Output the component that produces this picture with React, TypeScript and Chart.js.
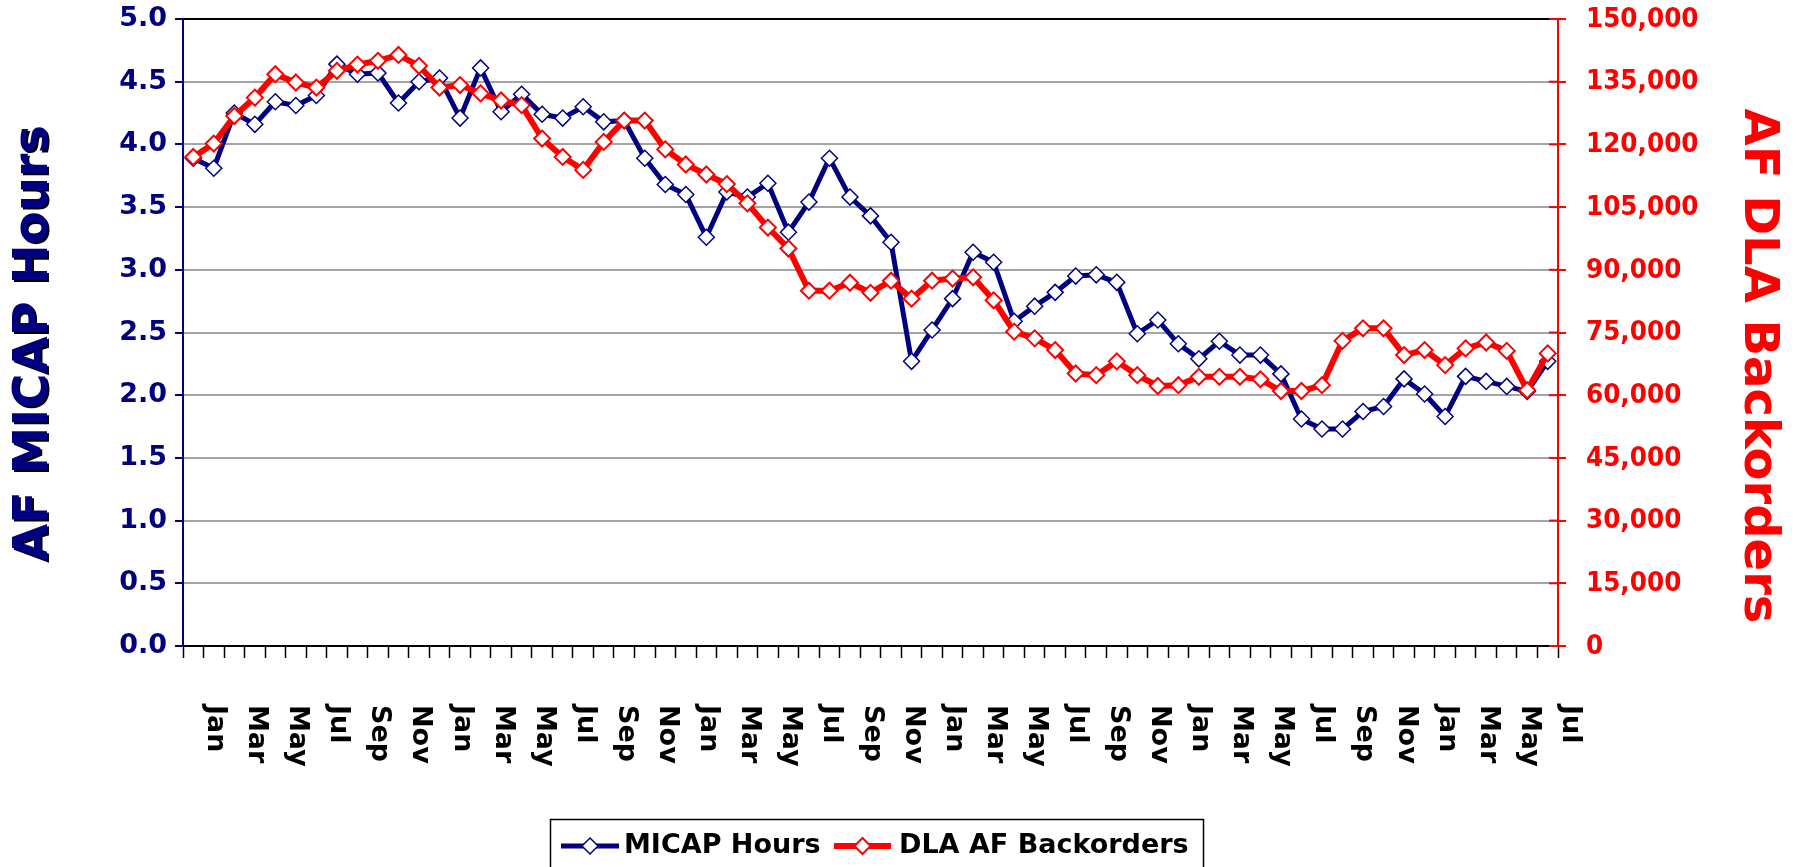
import React, { useEffect, useRef } from 'react';
import { Chart, registerables } from 'chart.js';

Chart.register(...registerables);

const categories = [
  'Jan', 'Feb', 'Mar', 'Apr', 'May', 'Jun', 'Jul', 'Aug', 'Sep', 'Oct', 'Nov', 'Dec',
  'Jan', 'Feb', 'Mar', 'Apr', 'May', 'Jun', 'Jul', 'Aug', 'Sep', 'Oct', 'Nov', 'Dec',
  'Jan', 'Feb', 'Mar', 'Apr', 'May', 'Jun', 'Jul', 'Aug', 'Sep', 'Oct', 'Nov', 'Dec',
  'Jan', 'Feb', 'Mar', 'Apr', 'May', 'Jun', 'Jul', 'Aug', 'Sep', 'Oct', 'Nov', 'Dec',
  'Jan', 'Feb', 'Mar', 'Apr', 'May', 'Jun', 'Jul', 'Aug', 'Sep', 'Oct', 'Nov', 'Dec',
  'Jan', 'Feb', 'Mar', 'Apr', 'May', 'Jun', 'Jul',
];

const micapHours = [
  3.89, 3.81, 4.25, 4.16, 4.34, 4.31, 4.39, 4.64, 4.56, 4.57, 4.33, 4.50,
  4.53, 4.21, 4.61, 4.26, 4.40, 4.24, 4.21, 4.30, 4.18, 4.19, 3.89, 3.68,
  3.60, 3.26, 3.62, 3.58, 3.69, 3.30, 3.54, 3.89, 3.58, 3.43, 3.22, 2.27,
  2.52, 2.77, 3.14, 3.06, 2.59, 2.71, 2.82, 2.95, 2.96, 2.90, 2.49, 2.60,
  2.41, 2.29, 2.43, 2.32, 2.32, 2.17, 1.81, 1.73, 1.73, 1.87, 1.91, 2.13,
  2.01, 1.83, 2.15, 2.11, 2.07, 2.03, 2.27,
];

const dlaBackorders = [
  117000, 120200, 126800, 131200, 136800, 134800, 133600, 137600, 139100, 140000, 141400, 138800,
  133600, 134200, 132200, 130500, 129400, 121400, 117000, 113900, 120600, 125700, 125700, 118800,
  115200, 112800, 110500, 105900, 100100, 95100, 85000, 85000, 86900, 84500, 87400, 83100,
  87400, 87900, 88200, 82700, 75200, 73600, 70800, 65200, 64800, 68100, 64800, 62200,
  62400, 64400, 64400, 64400, 63800, 61000, 61000, 62400, 73000, 76000, 76000, 69600,
  70800, 67200, 71200, 72600, 70600, 61200, 70000,
];

const seriesNames = ['MICAP Hours', 'DLA AF Backorders'];
const leftTitle = 'AF MICAP Hours';
const rightTitle = 'AF DLA Backorders';
const xLabelEvery = 2;

const NAVY = '#000080';
const RED = '#FF0000';
const FONT = "'DejaVu Sans', sans-serif";

const drawDiamond = (ctx: CanvasRenderingContext2D, x: number, y: number, r: number, stroke: string, lw: number) => {
  ctx.beginPath();
  ctx.moveTo(x, y - r);
  ctx.lineTo(x + r, y);
  ctx.lineTo(x, y + r);
  ctx.lineTo(x - r, y);
  ctx.closePath();
  ctx.fillStyle = '#FFFFFF';
  ctx.fill();
  ctx.strokeStyle = stroke;
  ctx.lineWidth = lw;
  ctx.stroke();
};

const decorPlugin = {
  id: 'decor',
  afterDraw(chart: any) {
    const ctx: CanvasRenderingContext2D = chart.ctx;
    const area = chart.chartArea;
    const xs = chart.scales.x;
    const y1 = chart.scales.y1;
    ctx.save();

    // right axis inward tick marks + labels
    ctx.strokeStyle = RED;
    ctx.lineWidth = 2;
    ctx.fillStyle = RED;
    ctx.font = `bold 26px ${FONT}`;
    ctx.textAlign = 'left';
    ctx.textBaseline = 'middle';
    y1.ticks.forEach((t: any) => {
      const py = y1.getPixelForValue(t.value);
      ctx.beginPath();
      ctx.moveTo(area.right - 9, py);
      ctx.lineTo(area.right, py);
      ctx.stroke();
      ctx.save();
      ctx.translate(area.right + 28, py + 1);
      ctx.scale(0.95, 1);
      ctx.fillText(Number(t.value).toLocaleString('en-US'), 0, 0);
      ctx.restore();
    });

    // x labels rotated clockwise
    ctx.fillStyle = '#000000';
    ctx.font = `bold 27px ${FONT}`;
    ctx.textAlign = 'left';
    ctx.textBaseline = 'middle';
    categories.forEach((lab, i) => {
      if (i % xLabelEvery !== 0) return;
      const px = xs.getPixelForValue(i) + 22;
      ctx.save();
      ctx.translate(px, 705);
      ctx.rotate(Math.PI / 2);
      ctx.fillText(lab, 0, 0);
      ctx.restore();
    });

    // left title with shadow
    ctx.save();
    ctx.font = `bold 48px ${FONT}`;
    ctx.textAlign = 'center';
    ctx.textBaseline = 'middle';
    ctx.translate(35, 343);
    ctx.rotate(-Math.PI / 2);
    ctx.shadowColor = '#000000';
    ctx.shadowOffsetX = 2;
    ctx.shadowOffsetY = 2;
    ctx.shadowBlur = 0;
    ctx.fillStyle = NAVY;
    ctx.fillText(leftTitle, 0, 0);
    ctx.restore();

    // right title
    ctx.save();
    ctx.font = `bold 48px ${FONT}`;
    ctx.textAlign = 'center';
    ctx.textBaseline = 'middle';
    ctx.translate(1757, 366);
    ctx.rotate(Math.PI / 2);
    ctx.fillStyle = RED;
    ctx.fillText(rightTitle, 0, 0);
    ctx.restore();

    // legend
    const ds = chart.data.datasets;
    ctx.strokeStyle = '#000000';
    ctx.lineWidth = 1.5;
    ctx.strokeRect(550.5, 819.5, 653, 80);
    const items = [
      { x0: 561, x1: 619, tx: 624 },
      { x0: 834, x1: 891, tx: 899 },
    ];
    const ly = 846;
    const order = [1, 0];
    items.forEach((it, k) => {
      const d = ds[order[k]];
      ctx.strokeStyle = d.borderColor;
      ctx.lineWidth = d.borderWidth;
      ctx.beginPath();
      ctx.moveTo(it.x0, ly);
      ctx.lineTo(it.x1, ly);
      ctx.stroke();
      drawDiamond(ctx, (it.x0 + it.x1) / 2, ly, d.pointRadius, d.pointBorderColor, d.pointBorderWidth);
      ctx.fillStyle = '#000000';
      ctx.font = `bold 27px ${FONT}`;
      ctx.textAlign = 'left';
      ctx.textBaseline = 'middle';
      ctx.fillText(d.label, it.tx, ly);
    });

    ctx.restore();
  },
};

export default function App() {
  const ref = useRef<HTMLCanvasElement | null>(null);

  useEffect(() => {
    document.body.style.margin = '0';
    const canvas = ref.current;
    if (!canvas) return;
    const chart = new Chart(canvas, {
      type: 'line',
      data: {
        labels: categories,
        datasets: [
          {
            label: seriesNames[1],
            data: dlaBackorders,
            yAxisID: 'y1',
            borderColor: RED,
            borderWidth: 6,
            pointStyle: 'rectRot',
            pointRadius: 8,
            pointBackgroundColor: '#FFFFFF',
            pointBorderColor: RED,
            pointBorderWidth: 2,
            tension: 0,
            order: 0,
          },
          {
            label: seriesNames[0],
            data: micapHours,
            yAxisID: 'y',
            borderColor: NAVY,
            borderWidth: 5,
            pointStyle: 'rectRot',
            pointRadius: 8,
            pointBackgroundColor: '#FFFFFF',
            pointBorderColor: NAVY,
            pointBorderWidth: 1.5,
            tension: 0,
            order: 1,
          },
        ],
      },
      options: {
        responsive: false,
        animation: false,
        layout: { padding: { top: 19, left: 0, right: 0, bottom: 0 } },
        plugins: {
          legend: { display: false },
          tooltip: { enabled: false },
          title: { display: false },
        },
        scales: {
          x: {
            type: 'category',
            offset: true,
            grid: {
              offset: true,
              drawOnChartArea: false,
              drawTicks: true,
              tickLength: 12,
              tickColor: '#000000',
              tickWidth: 1.5,
            },
            border: { color: '#000000', width: 2 },
            ticks: { display: false, autoSkip: false },
            afterFit: (s: any) => {
              s.height = 221;
              s.paddingLeft = 0;
              s.paddingRight = 0;
            },
          },
          y: {
            position: 'left',
            min: 0,
            max: 5,
            grid: {
              color: (c: any) => (c.tick && c.tick.value === 5 ? '#000000' : '#A4A4A4'),
              lineWidth: 2,
              drawTicks: true,
              tickLength: 8,
              tickColor: NAVY,
            },
            border: { color: NAVY, width: 2 },
            ticks: {
              stepSize: 0.5,
              color: NAVY,
              padding: 8,
              font: { family: FONT, weight: 'bold', size: 27 },
              callback: (v: any) => Number(v).toFixed(1),
            },
            afterFit: (s: any) => {
              s.width = 183;
              s.paddingTop = 0;
              s.paddingBottom = 0;
            },
          },
          y1: {
            position: 'right',
            min: 0,
            max: 150000,
            grid: {
              drawOnChartArea: false,
              drawTicks: true,
              tickLength: 8,
              tickColor: RED,
              lineWidth: 2,
            },
            border: { color: RED, width: 2 },
            ticks: {
              stepSize: 15000,
              display: false,
            },
            afterFit: (s: any) => {
              s.width = 238;
              s.paddingTop = 0;
              s.paddingBottom = 0;
            },
          },
        },
      },
      plugins: [decorPlugin],
    } as any);
    return () => chart.destroy();
  }, []);

  return <canvas ref={ref} width={1796} height={867} style={{ display: 'block' }} />;
}
